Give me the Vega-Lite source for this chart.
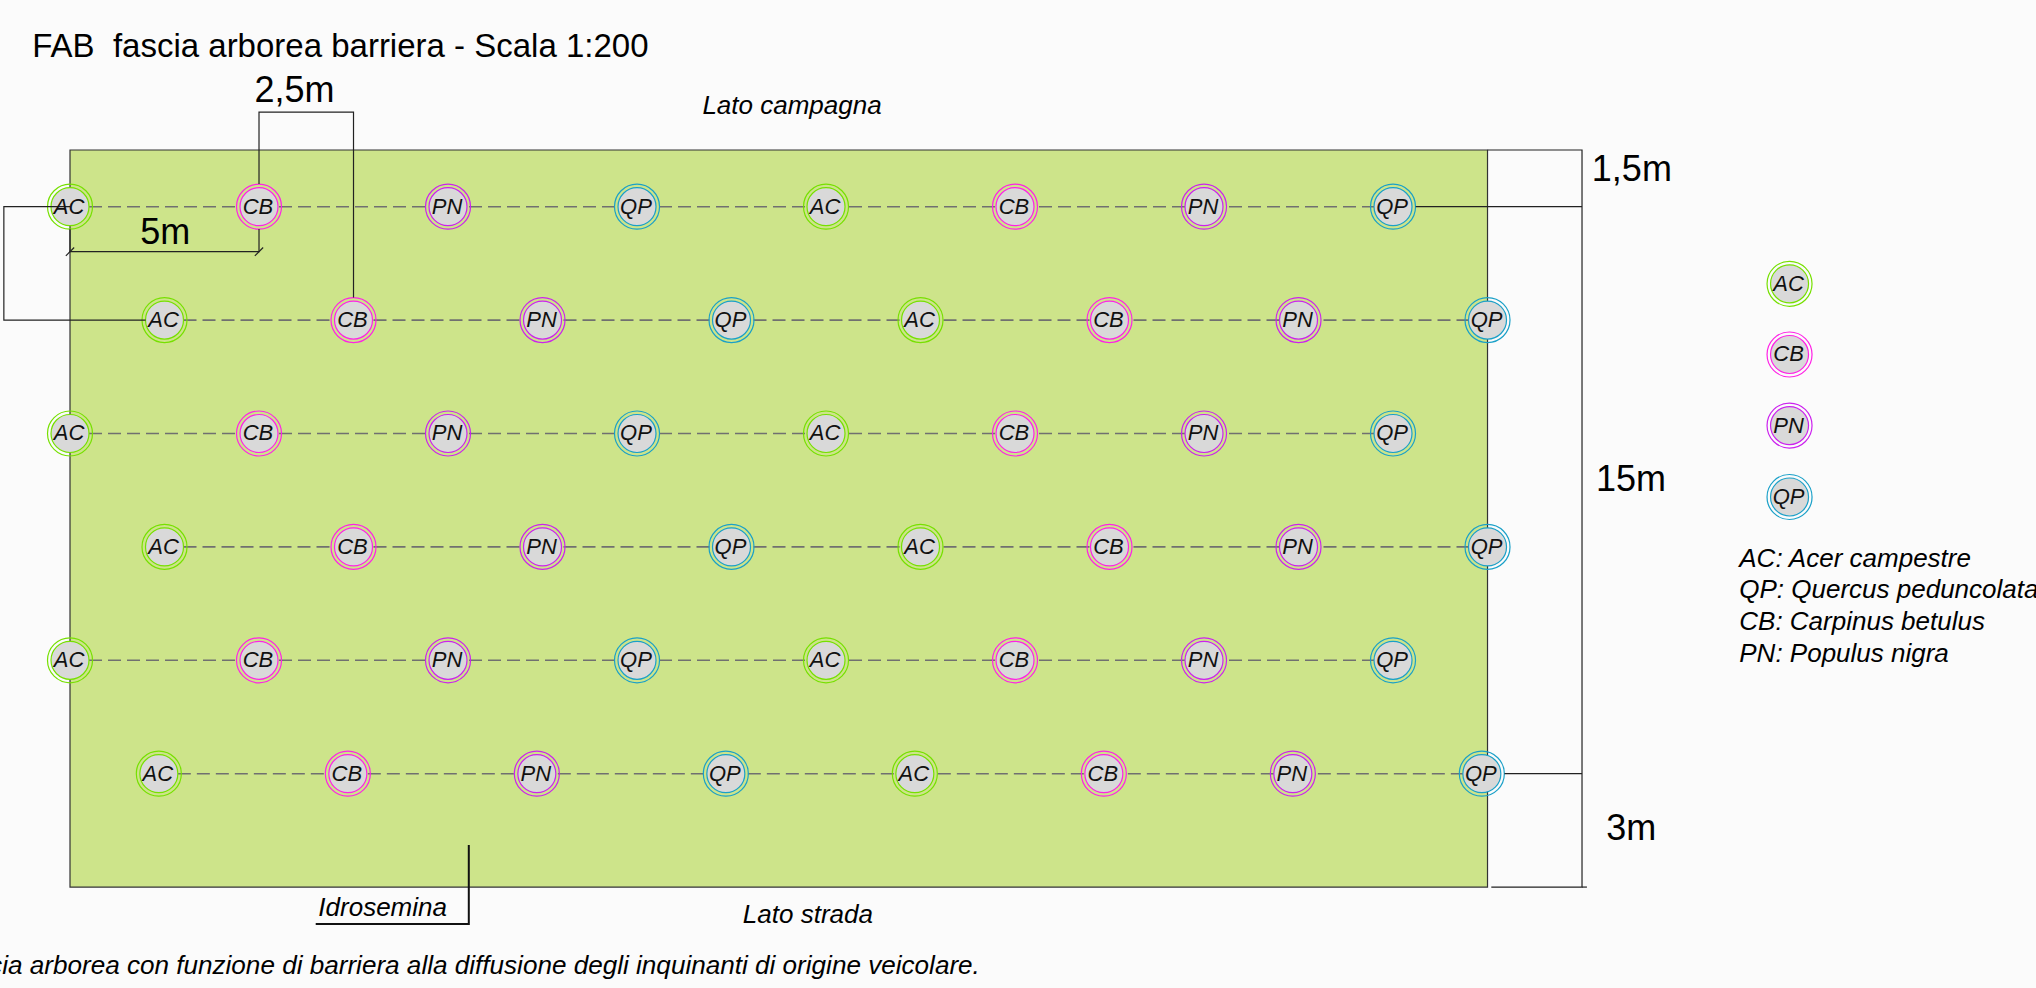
{"$schema":"https://vega.github.io/schema/vega-lite/v6.json","width":2036,"height":988,"padding":0,"autosize":{"type":"none"},"background":"#fbfbfb","view":{"stroke":null},
"datasets":{
"strip":[{"x":0,"x2":37.5,"y":0,"y2":19.5}],
"rows":[{"row":1,"x":0,"y":1.5},{"row":1,"x":35,"y":1.5},{"row":2,"x":2.5,"y":4.5},{"row":2,"x":37.5,"y":4.5},{"row":3,"x":0,"y":7.5},{"row":3,"x":35,"y":7.5},{"row":4,"x":2.5,"y":10.5},{"row":4,"x":37.5,"y":10.5},{"row":5,"x":0,"y":13.5},{"row":5,"x":35,"y":13.5},{"row":6,"x":2.35,"y":16.5},{"row":6,"x":37.35,"y":16.5}],
"trees":[
{"s":"AC","x":0,"y":1.5},{"s":"CB","x":5,"y":1.5},{"s":"PN","x":10,"y":1.5},{"s":"QP","x":15,"y":1.5},{"s":"AC","x":20,"y":1.5},{"s":"CB","x":25,"y":1.5},{"s":"PN","x":30,"y":1.5},{"s":"QP","x":35,"y":1.5},
{"s":"AC","x":2.5,"y":4.5},{"s":"CB","x":7.5,"y":4.5},{"s":"PN","x":12.5,"y":4.5},{"s":"QP","x":17.5,"y":4.5},{"s":"AC","x":22.5,"y":4.5},{"s":"CB","x":27.5,"y":4.5},{"s":"PN","x":32.5,"y":4.5},{"s":"QP","x":37.5,"y":4.5},
{"s":"AC","x":0,"y":7.5},{"s":"CB","x":5,"y":7.5},{"s":"PN","x":10,"y":7.5},{"s":"QP","x":15,"y":7.5},{"s":"AC","x":20,"y":7.5},{"s":"CB","x":25,"y":7.5},{"s":"PN","x":30,"y":7.5},{"s":"QP","x":35,"y":7.5},
{"s":"AC","x":2.5,"y":10.5},{"s":"CB","x":7.5,"y":10.5},{"s":"PN","x":12.5,"y":10.5},{"s":"QP","x":17.5,"y":10.5},{"s":"AC","x":22.5,"y":10.5},{"s":"CB","x":27.5,"y":10.5},{"s":"PN","x":32.5,"y":10.5},{"s":"QP","x":37.5,"y":10.5},
{"s":"AC","x":0,"y":13.5},{"s":"CB","x":5,"y":13.5},{"s":"PN","x":10,"y":13.5},{"s":"QP","x":15,"y":13.5},{"s":"AC","x":20,"y":13.5},{"s":"CB","x":25,"y":13.5},{"s":"PN","x":30,"y":13.5},{"s":"QP","x":35,"y":13.5},
{"s":"AC","x":2.35,"y":16.5},{"s":"CB","x":7.35,"y":16.5},{"s":"PN","x":12.35,"y":16.5},{"s":"QP","x":17.35,"y":16.5},{"s":"AC","x":22.35,"y":16.5},{"s":"CB","x":27.35,"y":16.5},{"s":"PN","x":32.35,"y":16.5},{"s":"QP","x":37.35,"y":16.5},
{"s":"AC","x":45.49,"y":3.54},{"s":"CB","x":45.49,"y":5.41},{"s":"PN","x":45.49,"y":7.29},{"s":"QP","x":45.49,"y":9.18}],
"leaders":[
{"id":"a","o":1,"x":5,"y":0.9},{"id":"a","o":2,"x":5,"y":-1},{"id":"a","o":3,"x":7.5,"y":-1},{"id":"a","o":4,"x":7.5,"y":3.9},
{"id":"b","o":1,"x":0,"y":2.1},{"id":"b","o":2,"x":0,"y":2.69},{"id":"b","o":3,"x":5,"y":2.69},{"id":"b","o":4,"x":5,"y":2.09},
{"id":"b1","o":1,"x":-0.11,"y":2.8},{"id":"b1","o":2,"x":0.11,"y":2.58},
{"id":"b2","o":1,"x":4.89,"y":2.8},{"id":"b2","o":2,"x":5.11,"y":2.58},
{"id":"c","o":1,"x":0,"y":1.5},{"id":"c","o":2,"x":-1.75,"y":1.5},{"id":"c","o":3,"x":-1.75,"y":4.5},{"id":"c","o":4,"x":2,"y":4.5},
{"id":"d","o":1,"x":37.5,"y":0},{"id":"d","o":2,"x":40,"y":0},{"id":"d","o":3,"x":40,"y":19.5},{"id":"d","o":4,"x":37.6,"y":19.5},
{"id":"d2","o":1,"x":40,"y":19.5},{"id":"d2","o":2,"x":40.13,"y":19.5},
{"id":"e","o":1,"x":35.6,"y":1.5},{"id":"e","o":2,"x":40,"y":1.5},
{"id":"f","o":1,"x":37.95,"y":16.5},{"id":"f","o":2,"x":40,"y":16.5}],
"idro":[{"o":1,"x":10.55,"y":18.39},{"o":2,"x":10.55,"y":20.48},{"o":3,"x":6.5,"y":20.48}],
"big":[{"t":"2,5m","x":4.88,"y":-1.27},{"t":"5m","x":1.86,"y":2.49},{"t":"1,5m","x":40.26,"y":0.81},{"t":"15m","x":40.37,"y":9.03},{"t":"3m","x":40.64,"y":18.25}],
"notes":[{"t":"Lato campagna","x":16.73,"y":-0.95},{"t":"Lato strada","x":17.8,"y":20.45},{"t":"Idrosemina","x":6.57,"y":20.26},
{"t":"AC: Acer campestre","x":44.16,"y":11.03},{"t":"QP: Quercus peduncolata","x":44.16,"y":11.86},{"t":"CB: Carpinus betulus","x":44.16,"y":12.7},{"t":"PN: Populus nigra","x":44.16,"y":13.54}],
"caption":[{"t":"Fascia arborea con funzione di barriera alla diffusione degli inquinanti di origine veicolare.","x":24.07,"y":21.8}],
"title":[{"t":"FAB\u00a0 fascia arborea barriera - Scala 1:200","x":-1.0,"y":-2.46}]
},
"encoding":{
"x":{"field":"x","type":"quantitative","scale":{"domain":[-1.852,52.01],"range":[0,2036],"nice":false,"zero":false},"axis":null},
"y":{"field":"y","type":"quantitative","scale":{"domain":[-3.968,22.17],"range":[0,988],"nice":false,"zero":false},"axis":null}
},
"layer":[
{"data":{"name":"strip"},"mark":{"type":"rect","fill":"#cde48a","stroke":"#333333","strokeWidth":1.2},"encoding":{"x2":{"field":"x2"},"y2":{"field":"y2"}}},
{"data":{"name":"rows"},"mark":{"type":"line","color":"#707070","strokeWidth":1.6,"strokeDash":[13,6]},"encoding":{"detail":{"field":"row"}}},
{"data":{"name":"trees"},"mark":{"type":"point","shape":"circle","filled":false,"size":2025,"strokeWidth":1.2,"fill":"#fbfbfb","fillOpacity":0.0},"encoding":{"stroke":{"field":"s","type":"nominal","legend":null,"scale":{"domain":["AC","CB","PN","QP"],"range":["#76e000","#ff22e6","#cc22ee","#1aa0c8"]}}}},
{"data":{"name":"trees"},"mark":{"type":"point","shape":"circle","filled":true,"size":1444,"fill":"#d9d9d9","opacity":1,"strokeWidth":1.2},"encoding":{"stroke":{"field":"s","type":"nominal","legend":null}}},
{"data":{"name":"leaders"},"mark":{"type":"line","color":"#222222","strokeWidth":1.2},"encoding":{"detail":{"field":"id"},"order":{"field":"o"}}},
{"data":{"name":"idro"},"mark":{"type":"line","color":"#111111","strokeWidth":2},"encoding":{"order":{"field":"o"}}},
{"data":{"name":"trees"},"mark":{"type":"text","font":"Liberation Sans","fontStyle":"italic","fontSize":22,"color":"#111111","baseline":"middle","dx":-1},"encoding":{"text":{"field":"s"}}},
{"data":{"name":"big"},"mark":{"type":"text","font":"Liberation Sans","fontSize":36,"color":"#000000","align":"left","baseline":"alphabetic"},"encoding":{"text":{"field":"t"}}},
{"data":{"name":"notes"},"mark":{"type":"text","font":"Liberation Sans","fontStyle":"italic","fontSize":26,"color":"#000000","align":"left","baseline":"alphabetic"},"encoding":{"text":{"field":"t"}}},
{"data":{"name":"caption"},"mark":{"type":"text","font":"Liberation Sans","fontStyle":"italic","fontSize":26.1,"color":"#000000","align":"right","baseline":"alphabetic"},"encoding":{"text":{"field":"t"}}},
{"data":{"name":"title"},"mark":{"type":"text","font":"Liberation Sans","fontSize":33,"color":"#000000","align":"left","baseline":"alphabetic"},"encoding":{"text":{"field":"t"}}}
]}
